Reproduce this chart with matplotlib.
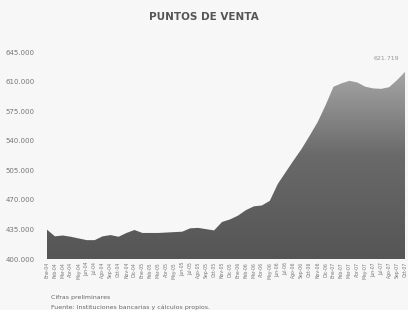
import numpy as np
import matplotlib.pyplot as plt
from matplotlib.ticker import FuncFormatter
from matplotlib.colors import LinearSegmentedColormap

# monthly sales points
meses = ['Ene', 'Feb', 'Mar', 'Abr', 'May', 'Jun', 'Jul', 'Ago', 'Sep', 'Oct', 'Nov', 'Dic']
etiquetas = [f'{meses[i % 12]}-{4 + i // 12:02d}' for i in range(46)]
puntos = [435000, 427000, 428000, 426500, 424500, 422500, 422500, 427000, 428500, 426500,
          431000, 434500, 431000, 431000, 431000, 431500, 432000, 432500, 436500, 437000,
          435500, 434000, 444000, 447000, 451500, 458000, 462500, 463500, 469000, 489000,
          503000, 517000, 530500, 546000, 562000, 582000, 604000, 608000, 611000, 609000,
          604000, 602000, 601500, 603500, 612000, 621719]
y_ticks = [400000, 435000, 470000, 505000, 540000, 575000, 610000, 645000]

fig = plt.figure(figsize=(4.08, 3.10), dpi=100)
fig.patch.set_facecolor('#f7f7f7')
ax = fig.add_axes([0.115, 0.164, 0.878, 0.668])
ax.set_facecolor('#f7f7f7')

x = np.arange(len(puntos))
ymin, ymax = 400000, 645000

# vertical gradient fill clipped to the area
gris = LinearSegmentedColormap.from_list('gris', ['#555555', '#6a6a6a', '#b4b4b4'])
poly = ax.fill_between(x, puntos, ymin, color='none', lw=0)
grad = np.linspace(0, 1, 256).reshape(-1, 1)
img = ax.imshow(grad, extent=[x[0], x[-1], ymin, ymax], origin='lower',
                aspect='auto', cmap=gris, zorder=2)
img.set_clip_path(poly.get_paths()[0], transform=ax.transData)

ax.set_xlim(x[0], x[-1])
ax.set_ylim(ymin, ymax)
ax.set_yticks(y_ticks)
ax.yaxis.set_major_formatter(FuncFormatter(lambda v, p: f'{v:,.0f}'.replace(',', '.')))
ax.set_xticks(x)
ax.set_xticklabels(etiquetas, rotation=90, fontsize=3.3, color='#777777')
ax.tick_params(axis='y', length=0, labelsize=5, labelcolor='#777777', pad=9)
ax.tick_params(axis='x', length=0, pad=2)
for s in ax.spines.values():
    s.set_visible(False)

ax.annotate(f'{puntos[-1]:,.0f}'.replace(',', '.'), xy=(x[-1], puntos[-1]),
            xytext=(-4, 8), textcoords='offset points', ha='right', va='bottom',
            fontsize=4.5, color='#999999')

fig.text(0.5, 0.935, 'PUNTOS DE VENTA', ha='center', fontsize=7.5,
         fontweight='bold', color='#555555')
fig.text(0.125, 0.035, 'Cifras preliminares', fontsize=4.5, color='#666666')
fig.text(0.125, 0.0, 'Fuente: Instituciones bancarias y cálculos propios.',
         fontsize=4.5, color='#666666', va='bottom')

fig.savefig('out.png', dpi=100, facecolor=fig.get_facecolor())
